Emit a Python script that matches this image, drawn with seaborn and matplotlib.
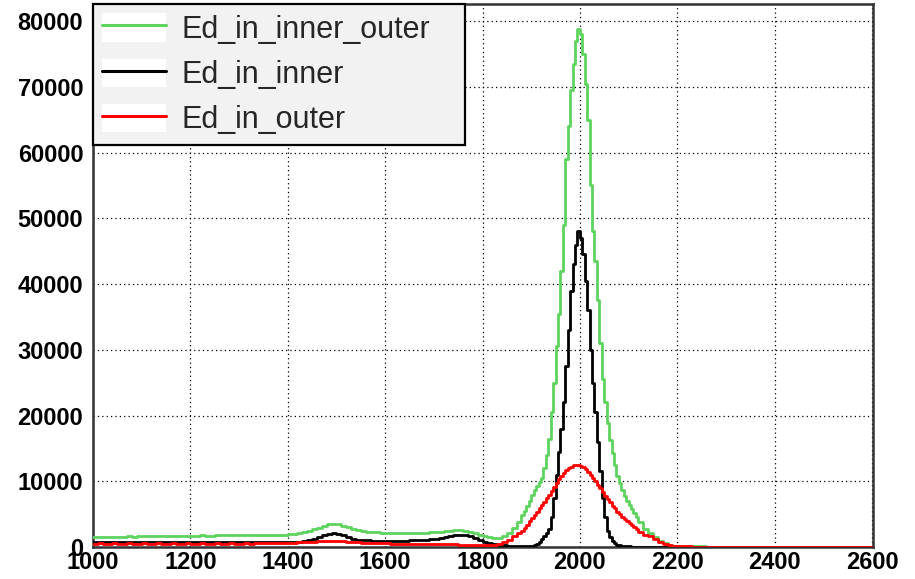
import numpy as np
import pandas as pd
import matplotlib
matplotlib.use("Agg")
import matplotlib.pyplot as plt
from matplotlib.lines import Line2D
from matplotlib.patches import Rectangle
from matplotlib.ticker import MultipleLocator
import seaborn as sns

# ---- bins: 10 wide, 5 wide around the peak (1880-2120) ----
bin_edges = (list(range(1000, 1880, 10)) + list(range(1880, 2120, 5))
             + list(range(2120, 2610, 10)))
labels = ["Ed_in_inner_outer", "Ed_in_inner", "Ed_in_outer"]

ed_inner_outer = [
    # 1000-1880 (10 wide)
    1550, 1500, 1450, 1500, 1550, 1500, 1550, 1600, 1550, 1600,
    1600, 1650, 1600, 1600, 1650, 1700, 1650, 1650, 1700, 1650,
    1700, 1700, 1750, 1700, 1700, 1750, 1800, 1750, 1750, 1800,
    1800, 1850, 1800, 1850, 1850, 1850, 1900, 1850, 1900, 1900,
    1950, 2000, 2100, 2250, 2450, 2700, 2950, 3200, 3450, 3550,
    3450, 3250, 3000, 2750, 2550, 2450, 2350, 2300, 2250, 2200,
    2200, 2150, 2150, 2150, 2200, 2200, 2150, 2200, 2200, 2250,
    2300, 2350, 2400, 2450, 2550, 2550, 2500, 2350, 2100, 1850,
    1650, 1500, 1350, 1300, 1600, 2200, 2900, 3800,
    # 1880-2120 (5 wide)
    4800, 5500, 6200, 7000, 7900, 8600, 9300, 9900,
    10500, 12000, 14000, 16500, 20500, 25000, 30500, 35500,
    42000, 49000, 59000, 64000, 69500, 73500, 77000, 78800,
    78000, 75000, 70500, 65000, 55000, 48000, 43500, 37500,
    31000, 25500, 22000, 18800, 16300, 14300, 12500, 10800,
    9700, 8700, 7800, 7000, 6400, 5800, 5200, 4600,
    # 2120-2600 (10 wide)
    3800, 2800, 2100, 1500, 900, 600, 350, 200,
    150, 120, 100, 100, 80, 80, 60, 50, 50, 40,
    40, 30, 30, 20, 20, 20, 10, 10, 10, 10,
    10, 10, 5, 5, 5, 5, 5, 0, 0, 0,
    0, 0, 0, 0, 0, 0, 0, 0, 0, 0,
]

ed_inner = [
    # 1000-1880 (10 wide)
    750, 700, 750, 750, 700, 750, 750, 700, 750, 750,
    750, 700, 750, 750, 700, 750, 750, 700, 750, 750,
    750, 700, 750, 750, 700, 750, 750, 700, 750, 750,
    750, 700, 750, 750, 700, 750, 700, 700, 750, 700,
    700, 700, 750, 850, 1000, 1250, 1550, 1850, 2050, 2100,
    2000, 1800, 1500, 1250, 1100, 1050, 1000, 950, 950, 900,
    900, 900, 900, 950, 950, 1000, 1000, 1050, 1100, 1150,
    1250, 1400, 1550, 1700, 1800, 1850, 1800, 1600, 1300, 1000,
    800, 600, 450, 350, 250, 200, 150, 120,
    # 1880-2120 (5 wide)
    100, 100, 100, 150, 200, 300, 500, 800,
    1200, 1700, 2100, 2700, 4500, 7500, 11000, 14500,
    18000, 22000, 27500, 33000, 39000, 43000, 46000, 48000,
    47000, 44500, 40500, 36000, 30000, 25000, 20500, 16000,
    11500, 7500, 4500, 2500, 1500, 900, 550, 350,
    250, 180, 130, 100, 80, 60, 50, 40,
    # 2120-2600 (10 wide)
    30, 20, 10, 10, 5, 5, 0, 0,
    0, 0, 0, 0, 0, 0, 0, 0, 0, 0,
    0, 0, 0, 0, 0, 0, 0, 0, 0, 0,
    0, 0, 0, 0, 0, 0, 0, 0, 0, 0,
    0, 0, 0, 0, 0, 0, 0, 0, 0, 0,
]

ed_outer = [
    # 1000-1880 (10 wide)
    500, 550, 500, 500, 550, 500, 500, 550, 500, 500,
    550, 500, 500, 550, 500, 500, 550, 500, 500, 550,
    500, 500, 550, 500, 500, 550, 500, 500, 550, 500,
    500, 550, 500, 600, 650, 600, 650, 600, 650, 650,
    650, 650, 700, 700, 750, 800, 850, 900, 950, 950,
    900, 850, 800, 750, 700, 650, 650, 600, 600, 550,
    550, 500, 500, 500, 500, 450, 450, 450, 450, 400,
    400, 400, 400, 400, 400, 350, 350, 300, 300, 250,
    250, 250, 300, 400, 700, 1100, 1600, 2100,
    # 1880-2120 (5 wide)
    2500, 2900, 3400, 3900, 4400, 4900, 5400, 5900,
    6400, 6900, 7400, 7900, 8500, 9100, 9700, 10300,
    10800, 11300, 11700, 12000, 12200, 12400, 12400, 12400,
    12300, 12100, 11800, 11400, 11000, 10500, 10000, 9500,
    9000, 8400, 7800, 7300, 6800, 6300, 5900, 5400,
    5000, 4600, 4200, 3900, 3600, 3300, 3000, 2700,
    # 2120-2600 (10 wide)
    2300, 1900, 1600, 1200, 800, 450, 300, 200,
    150, 100, 80, 60, 50, 40, 30, 20, 20, 10,
    10, 10, 5, 5, 5, 5, 0, 0, 0, 0,
    0, 0, 0, 0, 0, 0, 0, 0, 0, 0,
    0, 0, 0, 0, 0, 0, 0, 0, 0, 0,
]

colors = ["#5ed35e", "#000000", "#ff0000"]

edges = np.array(bin_edges, dtype=float)
centers = (edges[:-1] + edges[1:]) / 2

sns.set_style("white")
plt.rcParams["font.family"] = ["Liberation Sans", "DejaVu Sans"]

fig = plt.figure(figsize=(9.15, 5.79), dpi=100)
ax = fig.add_axes([93 / 915, 1 - 547 / 579, 780 / 915, 543 / 579])

for vals, col in zip([ed_inner_outer, ed_inner, ed_outer], colors):
    df = pd.DataFrame({"x": centers, "w": np.array(vals, dtype=float)})
    sns.histplot(data=df, x="x", weights="w", bins=list(bin_edges), element="step",
                 fill=False, color=col, linewidth=2.0, ax=ax, zorder=3)

ax.set_xlim(1000, 2602)
ax.set_ylim(0, 82600)
ax.set_xlabel("")
ax.set_ylabel("")

ax.xaxis.set_major_locator(MultipleLocator(200))
ax.xaxis.set_minor_locator(MultipleLocator(50))
ax.yaxis.set_major_locator(MultipleLocator(10000))
ax.yaxis.set_minor_locator(MultipleLocator(2000))

ax.grid(True, which="major", color="black", linestyle=(0, (1, 2.5)), linewidth=0.9)
ax.set_axisbelow(True)

ax.tick_params(axis="both", which="both", direction="in", colors="#222222",
               width=1.2, labelsize=17, top=False, right=False)
ax.tick_params(axis="x", which="major", length=12, pad=3)
ax.tick_params(axis="x", which="minor", length=6)
ax.tick_params(axis="y", which="major", length=17, pad=7)
ax.tick_params(axis="y", which="minor", length=7)
for lab in ax.get_xticklabels() + ax.get_yticklabels():
    lab.set_fontweight("bold")
    lab.set_color("black")

for side, sp in ax.spines.items():
    sp.set_visible(True)
    sp.set_color("#333333")
    sp.set_linewidth(1.8)

handles = []
for col in colors:
    box = Rectangle((0, 0), 1, 1, facecolor="white", edgecolor="none")
    ln = Line2D([], [], color=col, linewidth=2.2)
    handles.append((box, ln))

leg = ax.legend(handles, labels, loc="upper left",
                bbox_to_anchor=(0.0, 0.736, 0.477, 0.264), mode="expand",
                borderaxespad=0, fontsize=22, frameon=True, fancybox=False,
                facecolor="#f2f2f2", edgecolor="black", framealpha=1,
                handlelength=2.1, handleheight=1.05, handletextpad=0.5,
                labelspacing=0.45, borderpad=0.3)
leg.get_frame().set_linewidth(1.6)
leg.set_zorder(5)

fig.savefig("out.png", dpi=100)
